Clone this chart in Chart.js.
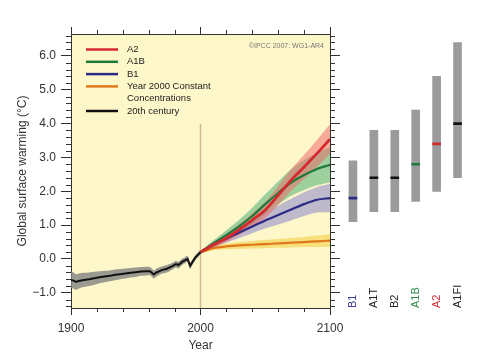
<!DOCTYPE html>
<html>
<head>
<meta charset="utf-8">
<script src="https://cdn.jsdelivr.net/npm/chart.js@4.4.1/dist/chart.umd.min.js"></script>
<style>
  html, body { margin: 0; padding: 0; background: #fff; }
  #wrap { position: relative; width: 477px; height: 354px; }
  #main { position: absolute; left: 0; top: 0; }
  #bars { position: absolute; left: 340px; top: 0; }
</style>
</head>
<body>
<div id="wrap">
  <canvas id="main" width="360" height="354"></canvas>
  <canvas id="bars" width="137" height="354"></canvas>
</div>
<script>
// shared temperature range, both charts use it
const Y_MIN = -1.45;
const Y_MAX = 6.65;

// 20th century observations/simulations
const years20 = [1900, 1902, 1904, 1906, 1910, 1914, 1918, 1922, 1926, 1930, 1934, 1938, 1942, 1946,
  1950, 1954, 1958, 1961, 1964, 1966, 1970, 1974, 1978, 1981, 1983, 1986, 1988, 1990, 1992, 1994,
  1996, 1998, 2000];
const temp20 = [-0.62, -0.64, -0.68, -0.65, -0.62, -0.60, -0.57, -0.54, -0.52, -0.50, -0.47, -0.45,
  -0.43, -0.41, -0.39, -0.37, -0.36, -0.36, -0.46, -0.40, -0.33, -0.29, -0.22, -0.15, -0.18, -0.08,
  -0.04, 0.00, -0.20, -0.08, 0.04, 0.12, 0.20];
const spread20 = [0.24, 0.24, 0.23, 0.22, 0.21, 0.20, 0.19, 0.18, 0.17, 0.16, 0.16, 0.15, 0.15, 0.14,
  0.14, 0.13, 0.13, 0.12, 0.12, 0.12, 0.11, 0.11, 0.10, 0.10, 0.10, 0.09, 0.09, 0.09, 0.09, 0.08,
  0.08, 0.08, 0.07];

// 21st century projections (multi-model means)
const yearsProj = [2000, 2010, 2020, 2030, 2040, 2050, 2060, 2070, 2080, 2090, 2100];
const a2 = [0.20, 0.42, 0.62, 0.87, 1.15, 1.45, 1.88, 2.33, 2.72, 3.12, 3.54];
const a1b = [0.20, 0.46, 0.71, 0.97, 1.27, 1.62, 1.95, 2.26, 2.48, 2.66, 2.78];
const b1 = [0.20, 0.42, 0.60, 0.78, 0.96, 1.14, 1.30, 1.46, 1.62, 1.75, 1.80];
const constConc = [0.20, 0.32, 0.37, 0.40, 0.42, 0.44, 0.46, 0.48, 0.50, 0.52, 0.54];

// +/- one standard deviation
const a2Spread = [0.03, 0.08, 0.12, 0.16, 0.20, 0.24, 0.28, 0.32, 0.36, 0.40, 0.44];
const a1bSpread = [0.03, 0.09, 0.14, 0.19, 0.24, 0.29, 0.34, 0.39, 0.44, 0.48, 0.52];
const b1Spread = [0.03, 0.08, 0.12, 0.16, 0.20, 0.24, 0.28, 0.32, 0.35, 0.38, 0.42];
const constSpread = [0.03, 0.06, 0.08, 0.10, 0.11, 0.12, 0.13, 0.14, 0.15, 0.17, 0.19];

// likely ranges at 2090-2099 for the marker scenarios
const scenarios = ['B1', 'A1T', 'B2', 'A1B', 'A2', 'A1FI'];
const likelyLow = [1.1, 1.4, 1.4, 1.7, 2.0, 2.4];
const likelyHigh = [2.9, 3.8, 3.8, 4.4, 5.4, 6.4];
const bestEstimate = [1.8, 2.4, 2.4, 2.8, 3.4, 4.0];

const FONT = '"Liberation Sans", Arial, Helvetica, sans-serif';
Chart.defaults.font.family = FONT;
Chart.defaults.color = '#333';

const RED = '#d42a2e', GREEN = '#1e7a3c', BLUE = '#2b2a86', ORANGE = '#e0781c', BLACK = '#111';
const scenarioColors = [BLUE, BLACK, BLACK, GREEN, RED, BLACK];
const labelColors = ['#3c3c9a', '#222', '#222', '#2e8b4a', '#d0303c', '#222'];

const pts = (xs, ys) => xs.map((x, i) => ({ x: x, y: ys[i] }));
const shift = (ys, sp, sign) => ys.map((v, i) => v + sign * sp[i]);

function band(xs, ys, sp, color, order) {
  return [
    { data: pts(xs, shift(ys, sp, 1)), borderWidth: 0, pointRadius: 0, fill: '+1',
      backgroundColor: color, order: order, tension: 0.3 },
    { data: pts(xs, shift(ys, sp, -1)), borderWidth: 0, pointRadius: 0, fill: false,
      order: order, tension: 0.3 },
  ];
}

function line(label, xs, ys, color, width, order, tension) {
  return { label: label, data: pts(xs, ys), borderColor: color, borderWidth: width,
    pointRadius: 0, fill: false, order: order, tension: tension };
}

const majorY = [-1, 0, 1, 2, 3, 4, 5, 6];
const setTicks = (vals) => (scale) => { scale.ticks = vals.map(v => ({ value: v })); };

const plotBackground = {
  id: 'plotBackground',
  beforeDraw(chart) {
    const { ctx, chartArea: a } = chart;
    ctx.save();
    ctx.fillStyle = '#fef7ca';
    ctx.fillRect(a.left, a.top, a.right - a.left, a.bottom - a.top);
    ctx.restore();
  }
};

// minor ticks, legend and credit
const decorations = {
  id: 'decorations',
  afterDraw(chart) {
    const { ctx, chartArea: a, scales: { x, y } } = chart;
    ctx.save();
    ctx.strokeStyle = '#333';
    ctx.lineWidth = 1;
    ctx.beginPath();
    for (let v = -14; v <= 66; v += 2) {
      if (v % 10 === 0) continue;
      const py = Math.round(y.getPixelForValue(v / 10)) + 0.5;
      ctx.moveTo(a.left - 5, py); ctx.lineTo(a.left, py);
      ctx.moveTo(a.right, py); ctx.lineTo(a.right + 5, py);
    }
    for (let yr = 1920; yr < 2100; yr += 20) {
      if (yr === 2000) continue;
      const px = Math.round(x.getPixelForValue(yr)) + 0.5;
      ctx.moveTo(px, a.top - 4); ctx.lineTo(px, a.top);
      ctx.moveTo(px, a.bottom); ctx.lineTo(px, a.bottom + 4);
    }
    ctx.stroke();

    // legend
    const rows = [['A2', RED], ['A1B', GREEN], ['B1', BLUE],
      ['Year 2000 Constant\nConcentrations', ORANGE], ['20th century', BLACK]];
    ctx.font = '9.5px ' + FONT;
    ctx.textBaseline = 'middle';
    ctx.fillStyle = '#222';
    let ry = a.top + 15.5;
    rows.forEach(([txt, col]) => {
      ctx.strokeStyle = col;
      ctx.lineWidth = 2.5;
      ctx.beginPath();
      ctx.moveTo(a.left + 15, ry); ctx.lineTo(a.left + 47, ry);
      ctx.stroke();
      txt.split('\n').forEach(part => {
        ctx.fillText(part, a.left + 56, ry);
        ry += 12.3;
      });
    });

    ctx.font = '7px ' + FONT;
    ctx.fillStyle = '#777';
    ctx.textAlign = 'right';
    ctx.fillText('\u00a9IPCC 2007: WG1-AR4', a.right - 6, a.top + 12);
    ctx.restore();
  }
};

// keep the end labels from shrinking the plot area
const noOverhang = (h) => (s) => { s.height = h; s.paddingLeft = 0; s.paddingRight = 0; };

new Chart(document.getElementById('main'), {
  type: 'line',
  data: {
    datasets: [
      line('2000', [2000, 2000], [4.0, Y_MIN], '#cdbd91', 1.5, 30, 0),
      ...band(yearsProj, a2, a2Spread, 'rgba(236,110,110,0.55)', 10),
      ...band(yearsProj, a1b, a1bSpread, 'rgba(60,170,110,0.5)', 11),
      ...band(yearsProj, b1, b1Spread, 'rgba(125,125,205,0.5)', 12),
      ...band(yearsProj, constConc, constSpread, 'rgba(240,205,60,0.55)', 13),
      ...band(years20, temp20, spread20, 'rgba(130,130,130,0.8)', 14),
      line('20th century', years20, temp20, BLACK, 2, 0, 0),
      line('A2', yearsProj, a2, RED, 2.8, 1, 0.3),
      line('A1B', yearsProj, a1b, GREEN, 2.2, 2, 0.3),
      line('B1', yearsProj, b1, BLUE, 2.2, 3, 0.3),
      line('Year 2000 Constant Concentrations', yearsProj, constConc, ORANGE, 2.2, 4, 0.3),
    ]
  },
  options: {
    responsive: false,
    animation: false,
    layout: { padding: { top: 27, right: 20, bottom: 0, left: 0 } },
    plugins: { legend: { display: false }, tooltip: { enabled: false } },
    scales: {
      x: {
        type: 'linear', position: 'bottom', min: 1900, max: 2100,
        afterBuildTicks: setTicks([1900, 2000, 2100]),
        afterFit: noOverhang(46),
        ticks: { padding: 6, font: { size: 12 }, color: '#333', callback: (v) => String(v) },
        grid: { drawOnChartArea: false, tickLength: 7, color: '#333' },
        border: { display: true, color: '#333' },
        title: { display: true, text: 'Year', font: { size: 12 }, color: '#333',
          padding: { top: 0, bottom: 1 } }
      },
      xTop: {
        type: 'linear', position: 'top', min: 1900, max: 2100,
        afterBuildTicks: setTicks([1900, 2000, 2100]),
        afterFit: noOverhang(7),
        ticks: { display: false },
        grid: { drawOnChartArea: false, tickLength: 7, color: '#333' },
        border: { display: true, color: '#333' }
      },
      y: {
        type: 'linear', position: 'left', min: Y_MIN, max: Y_MAX,
        afterBuildTicks: setTicks(majorY),
        afterFit: (s) => { s.width = 71; s.paddingTop = 0; s.paddingBottom = 0; },
        ticks: { padding: 5, font: { size: 12 }, color: '#333',
          callback: (v) => (v < 0 ? '\u2212' : '') + Math.abs(v).toFixed(1) },
        grid: { drawOnChartArea: false, tickLength: 10, color: '#333' },
        border: { display: true, color: '#333' },
        title: { display: true, text: 'Global surface warming (\u00b0C)', font: { size: 12 },
          color: '#333', padding: { top: 15, bottom: 0 } }
      },
      yRight: {
        type: 'linear', position: 'right', min: Y_MIN, max: Y_MAX,
        afterBuildTicks: setTicks(majorY),
        afterFit: (s) => { s.width = 10; s.paddingTop = 0; s.paddingBottom = 0; },
        ticks: { display: false },
        grid: { drawOnChartArea: false, tickLength: 10, color: '#333' },
        border: { display: true, color: '#333' }
      }
    }
  },
  plugins: [plotBackground, decorations]
});

// rotated scenario names at the foot of the bars
const scenarioLabels = {
  id: 'scenarioLabels',
  afterDraw(chart) {
    const { ctx, chartArea: a, scales: { x } } = chart;
    ctx.save();
    ctx.font = '11px ' + FONT;
    ctx.textAlign = 'left';
    ctx.textBaseline = 'middle';
    scenarios.forEach((name, i) => {
      ctx.save();
      ctx.translate(x.getPixelForValue(i), a.bottom);
      ctx.rotate(-Math.PI / 2);
      ctx.fillStyle = labelColors[i];
      ctx.fillText(name, 0, 0);
      ctx.restore();
    });
    ctx.restore();
  }
};

new Chart(document.getElementById('bars'), {
  type: 'bar',
  data: {
    labels: scenarios,
    datasets: [
      { data: bestEstimate.map(v => [v - 0.03, v + 0.03]), backgroundColor: scenarioColors,
        barThickness: 8, grouped: false, order: 1 },
      { data: likelyLow.map((lo, i) => [lo, likelyHigh[i]]), backgroundColor: '#9b9b9b',
        barThickness: 8, grouped: false, order: 2 }
    ]
  },
  options: {
    responsive: false,
    animation: false,
    layout: { padding: { top: 34, bottom: 46, left: 2.5, right: 9 } },
    plugins: { legend: { display: false }, tooltip: { enabled: false } },
    scales: {
      x: { display: false },
      y: { display: false, min: Y_MIN, max: Y_MAX }
    }
  },
  plugins: [scenarioLabels]
});
</script>
</body>
</html>
